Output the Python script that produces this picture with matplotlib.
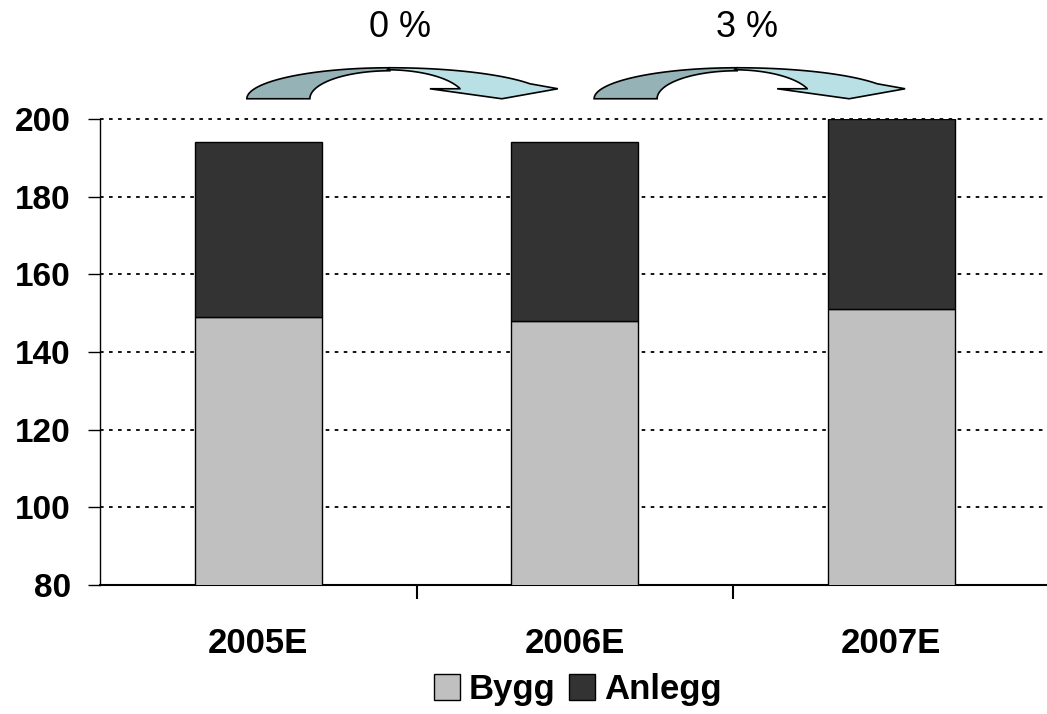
import numpy as np
import matplotlib
matplotlib.use('Agg')
import matplotlib.pyplot as plt
from matplotlib.patches import Polygon

plt.rcParams['font.family'] = ['Liberation Sans', 'DejaVu Sans']

# data
years = ['2005E', '2006E', '2007E']
bygg = [149, 148, 151]
anlegg = [45, 46, 49]
growth_labels = ['0 %', '3 %']
# arrow start (data x, data y) for each growth arrow
arrow_starts = [(-0.036, 205.2), (1.061, 205.2)]

fig = plt.figure(figsize=(10.47, 7.14), dpi=100)
ax = fig.add_axes([0.0955, 0.1807, 0.907, 0.6527])

x = np.arange(len(years))
ax.bar(x, bygg, width=0.4, color='#c0c0c0', edgecolor='black', linewidth=1, label='Bygg', zorder=3)
ax.bar(x, anlegg, width=0.4, bottom=bygg, color='#333333', edgecolor='black', linewidth=1,
       label='Anlegg', zorder=3)

ax.set_xlim(-0.5, 2.5)
ax.set_ylim(80, 200)
ax.set_yticks(range(80, 201, 20))
ax.tick_params(axis='y', which='major', labelsize=24, length=9, width=1, pad=12)
for lab in ax.get_yticklabels():
    lab.set_fontweight('bold')

ax.set_xticks(x)
ax.set_xticklabels(years, fontsize=25, fontweight='bold')
ax.tick_params(axis='x', which='major', length=0, pad=30)
ax.set_xticks([0.5, 1.5], minor=True)
ax.tick_params(axis='x', which='minor', length=10, width=1.5, direction='out')

for yv in range(100, 201, 20):
    ax.axhline(yv, color='black', linestyle=(0, (2, 3)), linewidth=1.3, zorder=1, clip_on=False)

ax.spines['top'].set_visible(False)
ax.spines['right'].set_visible(False)
ax.spines['left'].set_linewidth(1)
ax.spines['bottom'].set_linewidth(1.5)

# curved arrows above the bars (shape defined in pixels, converted to data units)
bbox = ax.get_position()
sx = fig.get_figwidth() * fig.dpi * bbox.width / 3.0
sy = fig.get_figheight() * fig.dpi * bbox.height / 120.0


def arrow_parts():
    t = np.linspace(np.pi, np.pi / 2, 40)
    outer_l = np.column_stack([143 + 143 * np.cos(t), 31 * np.sin(t)])
    inner_l = np.column_stack([143 + 80 * np.cos(t), 28 * np.sin(t)])[::-1]
    dark = np.vstack([outer_l, inner_l])
    t2 = np.linspace(np.pi / 2, np.arccos(140 / 160), 40)
    outer_r = np.column_stack([143 + 160 * np.cos(t2), 31 * np.sin(t2)])
    head = np.array([[311, 10], [255, 0], [183, 10], [213, 10]])
    t3 = np.linspace(np.arccos(73 / 78), np.pi / 2, 40)
    inner_r = np.column_stack([140 + 78 * np.cos(t3), 29 * np.sin(t3)])
    light = np.vstack([outer_r, head, inner_r])
    return dark, light


dark, light = arrow_parts()
for (x0, y0), txt in zip(arrow_starts, growth_labels):
    for pts, col in [(dark, '#95b3b7'), (light, '#b8e0e5')]:
        xy = np.column_stack([x0 + pts[:, 0] / sx, y0 + pts[:, 1] / sy])
        ax.add_patch(Polygon(xy, closed=True, facecolor=col, edgecolor='black', linewidth=1.2,
                             clip_on=False, zorder=4))
    ax.text(x0 + 153 / sx, 200 + 91 / sy, txt, fontsize=26, ha='center', va='center')

fig.legend(loc='center', bbox_to_anchor=(0.552, 0.034), ncol=2, frameon=False,
           prop={'size': 25, 'weight': 'bold'}, handlelength=0.75, handleheight=0.75,
           handletextpad=0.25, columnspacing=0.4)

fig.savefig('out.png', dpi=100)
